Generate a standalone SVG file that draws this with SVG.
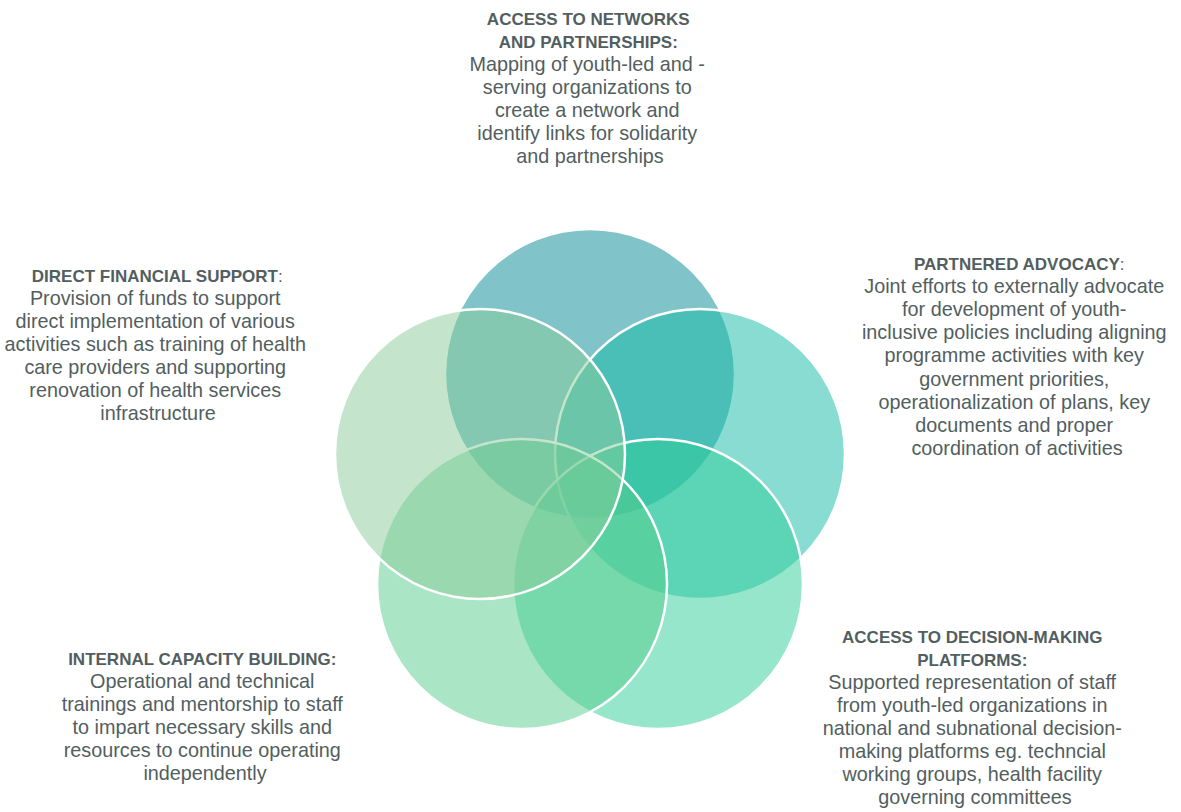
<svg xmlns="http://www.w3.org/2000/svg" width="1181" height="812" viewBox="0 0 1181 812">
  <style>
    .ring { stroke: #ffffff; stroke-width: 2.5; fill-opacity: 0.5; }
    .txt { font-family: "Liberation Sans", Arial, sans-serif; font-size: 19.8px; fill: #525e60; text-anchor: middle; }
    .hd { font-weight: bold; font-size: 17px; }
    .rg { font-weight: normal; }
  </style>
  <rect width="1181" height="812" fill="#ffffff"/>

  <!-- five overlapping circles arranged on a pentagon, drawn back to front -->
  <g id="networks">
    <circle class="ring" cx="590" cy="374" r="145" fill="#018995"/>
    <text class="txt">
      <tspan class="hd" x="591" y="25">ACCESS TO NETWORKS</tspan>
      <tspan class="hd" x="591" y="48">AND PARTNERSHIPS:</tspan>
      <tspan x="590" y="71">Mapping of youth-led and -</tspan>
      <tspan x="590" y="94">serving organizations to</tspan>
      <tspan x="590" y="117">create a network and</tspan>
      <tspan x="590" y="140">identify links for solidarity</tspan>
      <tspan x="590" y="163">and partnerships</tspan>
    </text>
  </g>

  <g id="advocacy">
    <circle class="ring" cx="700" cy="454" r="145" fill="#13b9a5"/>
    <text class="txt">
      <tspan class="hd" x="1022" y="270">PARTNERED ADVOCACY<tspan class="rg">:</tspan></tspan>
      <tspan x="1017" y="293">Joint efforts to externally advocate</tspan>
      <tspan x="1017" y="316">for development of youth-</tspan>
      <tspan x="1017" y="339">inclusive policies including aligning</tspan>
      <tspan x="1017" y="362">programme activities with key</tspan>
      <tspan x="1017" y="386">government priorities,</tspan>
      <tspan x="1017" y="409">operationalization of plans, key</tspan>
      <tspan x="1017" y="432">documents and proper</tspan>
      <tspan x="1017" y="455">coordination of activities</tspan>
    </text>
  </g>

  <g id="decision-making">
    <circle class="ring" cx="658" cy="584" r="145" fill="#2dcd97"/>
    <text class="txt">
      <tspan class="hd" x="975" y="643">ACCESS TO DECISION-MAKING</tspan>
      <tspan class="hd" x="975" y="666">PLATFORMS:</tspan>
      <tspan x="975" y="689">Supported representation of staff</tspan>
      <tspan x="975" y="712">from youth-led organizations in</tspan>
      <tspan x="975" y="735">national and subnational decision-</tspan>
      <tspan x="975" y="758">making platforms eg. techncial</tspan>
      <tspan x="975" y="781">working groups, health facility</tspan>
      <tspan x="975" y="804">governing committees</tspan>
    </text>
  </g>

  <g id="capacity-building">
    <circle class="ring" cx="522" cy="584" r="145" fill="#55cb8b"/>
    <text class="txt">
      <tspan class="hd" x="205" y="665">INTERNAL CAPACITY BUILDING:</tspan>
      <tspan x="205" y="688">Operational and technical</tspan>
      <tspan x="205" y="711">trainings and mentorship to staff</tspan>
      <tspan x="205" y="734">to impart necessary skills and</tspan>
      <tspan x="205" y="757">resources to continue operating</tspan>
      <tspan x="205" y="780">independently</tspan>
    </text>
  </g>

  <g id="financial-support">
    <circle class="ring" cx="480" cy="454" r="145" fill="#89cb99"/>
    <text class="txt">
      <tspan class="hd" x="160" y="282">DIRECT FINANCIAL SUPPORT<tspan class="rg">:</tspan></tspan>
      <tspan x="158" y="305">Provision of funds to support</tspan>
      <tspan x="158" y="328">direct implementation of various</tspan>
      <tspan x="158" y="351">activities such as training of health</tspan>
      <tspan x="158" y="374">care providers and supporting</tspan>
      <tspan x="158" y="397">renovation of health services</tspan>
      <tspan x="158" y="420">infrastructure</tspan>
    </text>
  </g>
</svg>
